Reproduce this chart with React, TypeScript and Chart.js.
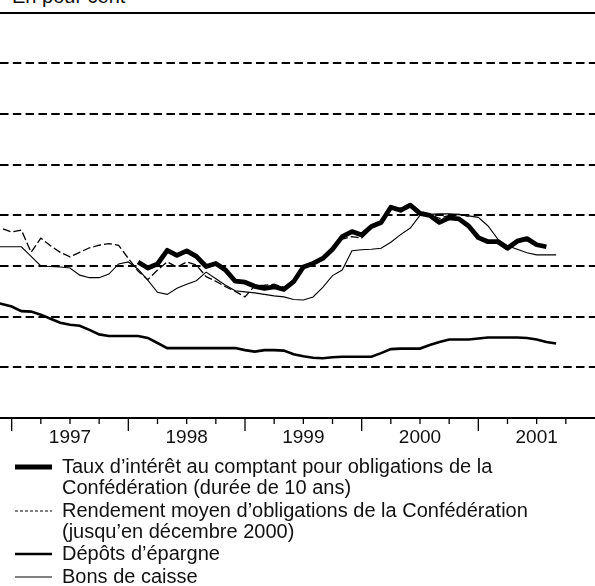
import React, { useEffect, useRef } from "react";
import { Chart, registerables } from "chart.js";

Chart.register(...registerables);

// Month-end observations, Oct 1996 .. Aug 2001
const months = [
  "1996-10", "1996-11", "1996-12",
  "1997-01", "1997-02", "1997-03", "1997-04", "1997-05", "1997-06", "1997-07", "1997-08", "1997-09", "1997-10", "1997-11", "1997-12",
  "1998-01", "1998-02", "1998-03", "1998-04", "1998-05", "1998-06", "1998-07", "1998-08", "1998-09", "1998-10", "1998-11", "1998-12",
  "1999-01", "1999-02", "1999-03", "1999-04", "1999-05", "1999-06", "1999-07", "1999-08", "1999-09", "1999-10", "1999-11", "1999-12",
  "2000-01", "2000-02", "2000-03", "2000-04", "2000-05", "2000-06", "2000-07", "2000-08", "2000-09", "2000-10", "2000-11", "2000-12",
  "2001-01", "2001-02", "2001-03", "2001-04", "2001-05", "2001-06", "2001-07", "2001-08",
];

const spotRate10y = [
  null, null, null,
  null, null, null, null, null, null, null, null, null, null, null, null,
  3.08, 2.96, 3.04, 3.31, 3.21, 3.30, 3.19, 2.99, 3.05, 2.92, 2.70, 2.68,
  2.60, 2.56, 2.59, 2.54, 2.69, 2.98, 3.05, 3.15, 3.33, 3.58, 3.68, 3.61,
  3.78, 3.86, 4.16, 4.10, 4.20, 4.04, 4.00, 3.86, 3.95, 3.93, 3.79, 3.56,
  3.48, 3.48, 3.35, 3.49, 3.54, 3.42, 3.38, null,
];

const avgBondYield = [
  3.78, 3.74, 3.67,
  3.71, 3.27, 3.55, 3.40, 3.27, 3.18, 3.27, 3.36, 3.41, 3.44, 3.41, 3.15,
  2.90, 2.73, 2.92, 3.08, 2.98, 3.08, 3.02, 2.79, 2.70, 2.59, 2.50, 2.39,
  2.61, 2.62, 2.64, 2.58, 2.72, 3.00, 3.08, 3.18, 3.32, 3.53, 3.58, 3.55,
  3.75, 3.85, 4.10, 4.14, 4.23, 4.08, 4.02, 3.94, 4.00, 4.02, 3.98, null,
  null, null, null, null, null, null, null, null,
];

const savingsDeposits = [
  2.30, 2.25, 2.20,
  2.11, 2.10, 2.04, 1.96, 1.88, 1.84, 1.82, 1.74, 1.65, 1.62, 1.62, 1.62,
  1.62, 1.58, 1.48, 1.38, 1.38, 1.38, 1.38, 1.38, 1.38, 1.38, 1.38, 1.34,
  1.31, 1.34, 1.34, 1.33, 1.26, 1.22, 1.19, 1.18, 1.20, 1.21, 1.21, 1.21,
  1.21, 1.28, 1.36, 1.37, 1.37, 1.37, 1.44, 1.50, 1.55, 1.55, 1.55, 1.57,
  1.59, 1.59, 1.59, 1.59, 1.58, 1.55, 1.50, 1.47,
];

const cashBonds = [
  3.38, 3.38, 3.38,
  3.38, 3.19, 3.00, 2.99, 2.98, 2.96, 2.82, 2.77, 2.77, 2.84, 3.04, 3.08,
  2.94, 2.72, 2.48, 2.44, 2.56, 2.64, 2.71, 2.88, 2.75, 2.62, 2.51, 2.49,
  2.47, 2.44, 2.41, 2.39, 2.34, 2.33, 2.39, 2.58, 2.81, 2.92, 3.30, 3.32,
  3.33, 3.35, 3.47, 3.62, 3.75, 4.00, 4.02, 4.03, 4.03, 4.02, 3.99, 3.96,
  3.79, 3.53, 3.40, 3.33, 3.26, 3.22, 3.22, 3.22,
];

const yearLabels = ["1997", "1998", "1999", "2000", "2001"];

const seriesNames = [
  "Taux d’intérêt au comptant pour obligations de la Confédération (durée de 10 ans)",
  "Rendement moyen d’obligations de la Confédération (jusqu’en décembre 2000)",
  "Dépôts d’épargne",
  "Bons de caisse",
];

const legendLines = [
  ["Taux d’intérêt au comptant pour obligations de la", "Confédération (durée de 10 ans)"],
  ["Rendement moyen d’obligations de la Confédération", "(jusqu’en décembre 2000)"],
  ["Dépôts d’épargne"],
  ["Bons de caisse"],
];

const FONT = "'Liberation Sans', Arial, Helvetica, sans-serif";

function monthIndex(label: string): number {
  const [y, m] = label.split("-").map(Number);
  return (y - 1997) * 12 + m;
}

function toPoints(values: (number | null)[]) {
  return months.map((mo, i) => ({ x: monthIndex(mo), y: values[i] }));
}

const quarterTicks = {
  id: "quarterTicks",
  afterDraw(chart: any) {
    const xs = chart.scales.x;
    const ctx = chart.ctx;
    const base = chart.chartArea.bottom;
    ctx.save();
    ctx.strokeStyle = "#000";
    ctx.lineWidth = 1.3;
    for (let v = 0; v < 60; v += 3) {
      const px = xs.getPixelForValue(v);
      const len = v % 12 === 0 ? 13 : 6;
      ctx.beginPath();
      ctx.moveTo(px, base);
      ctx.lineTo(px, base + len);
      ctx.stroke();
    }
    ctx.restore();
  },
};

function LegendSample({ kind }: { kind: number }) {
  const common = { x1: 1, x2: 38, y1: 6, y2: 6, stroke: "#000" };
  let line;
  if (kind === 0) line = <line {...common} strokeWidth={5} />;
  else if (kind === 1) line = <line {...common} strokeWidth={1} strokeDasharray="3 2" />;
  else if (kind === 2) line = <line {...common} strokeWidth={2.6} />;
  else line = <line {...common} strokeWidth={1.1} />;
  return (
    <svg width={40} height={12} style={{ position: "absolute", left: 14, top: 5 }}>
      {line}
    </svg>
  );
}

export default function App() {
  const ref = useRef<HTMLCanvasElement>(null);

  useEffect(() => {
    if (!ref.current) return;
    const chart = new Chart(ref.current, {
      type: "line",
      data: {
        datasets: [
          {
            label: seriesNames[0],
            data: toPoints(spotRate10y),
            borderColor: "#000",
            borderWidth: 4.8,
            pointRadius: 0,
            tension: 0,
            borderJoinStyle: "round",
          },
          {
            label: seriesNames[1],
            data: toPoints(avgBondYield),
            borderColor: "#000",
            borderWidth: 1.3,
            borderDash: [8, 3],
            pointRadius: 0,
            tension: 0,
          },
          {
            label: seriesNames[2],
            data: toPoints(savingsDeposits),
            borderColor: "#000",
            borderWidth: 2.6,
            pointRadius: 0,
            tension: 0,
          },
          {
            label: seriesNames[3],
            data: toPoints(cashBonds),
            borderColor: "#000",
            borderWidth: 1.1,
            pointRadius: 0,
            tension: 0,
          },
        ],
      } as any,
      options: {
        animation: false,
        responsive: false,
        devicePixelRatio: 1,
        layout: { padding: { top: 12.7, left: 0, right: 0, bottom: 0 } },
        plugins: { legend: { display: false }, tooltip: { enabled: false } },
        scales: {
          x: {
            type: "linear",
            min: -1.2,
            max: 60,
            grid: { display: false, drawTicks: false },
            border: { display: true, color: "#000", width: 2 },
            afterBuildTicks: (s: any) => {
              s.ticks = yearLabels.map((_, i) => ({ value: 6 + 12 * i }));
            },
            afterFit: (s: any) => {
              s.height = 42;
            },
            ticks: {
              autoSkip: false,
              maxRotation: 0,
              padding: 8,
              color: "#111",
              font: { family: FONT, size: 19 },
              callback: (v: any) => yearLabels[(Number(v) - 6) / 12] ?? "",
            },
          },
          y: {
            min: 0,
            max: 8,
            ticks: { display: false, stepSize: 1 },
            afterFit: (s: any) => {
              s.width = 0;
            },
            border: {
              display: false,
              dash: (c: any) => (c.tick && c.tick.value === 8 ? [] : [8.5, 4.3]),
            },
            grid: {
              drawTicks: false,
              color: "#000",
              lineWidth: (c: any) => (c.tick && c.tick.value === 0 ? 0 : 2),
            },
          },
        },
      } as any,
      plugins: [quarterTicks],
    });
    return () => chart.destroy();
  }, []);

  const entryTops = [456, 500, 543, 566];

  return (
    <div
      style={{
        position: "absolute",
        left: 0,
        top: 0,
        width: 595,
        height: 586,
        overflow: "hidden",
        background: "#fff",
        color: "#111",
        fontFamily: FONT,
      }}
    >
      <div style={{ position: "absolute", left: 12, top: -12, fontSize: 20, lineHeight: "17px", whiteSpace: "nowrap" }}>
        En pour cent
      </div>
      <canvas ref={ref} width={595} height={460} style={{ position: "absolute", left: 0, top: 0 }} />
      {legendLines.map((lines, i) => (
        <div key={i} style={{ position: "absolute", left: 0, top: entryTops[i], width: 595 }}>
          <LegendSample kind={i} />
          <div style={{ position: "absolute", left: 62, top: 0, fontSize: 20, lineHeight: "21px", whiteSpace: "nowrap" }}>
            {lines.map((t, j) => (
              <div key={j}>{t}</div>
            ))}
          </div>
        </div>
      ))}
    </div>
  );
}
